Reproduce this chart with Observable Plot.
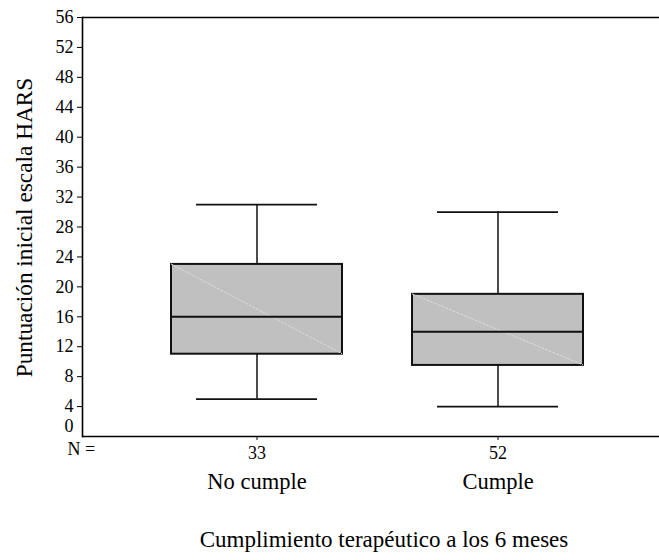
<!DOCTYPE html>
<html><head><meta charset="utf-8">
<script src="https://cdn.jsdelivr.net/npm/d3@7"></script>
<script src="https://cdn.jsdelivr.net/npm/@observablehq/plot@0.6"></script>
<style>body{margin:0;background:#fff} svg, svg text{font-family:'Liberation Serif','Times New Roman',serif !important}</style>
</head><body><div id="chart"></div>
<script>
const groups = ["No cumple", "Cumple"];
const counts = [33, 52];
const lowerWhisker = [5, 4];
const q1 = [11, 9.5];
const median = [16, 14];
const q3 = [23, 19];
const upperWhisker = [31, 30];
const yTicks = [0, 4, 8, 12, 16, 20, 24, 28, 32, 36, 40, 44, 48, 52, 56];
const yLabel = "Puntuación inicial escala HARS";
const xLabel = "Cumplimiento terapéutico a los 6 meses";
const nLabel = "N =";

const boxes = groups.map((g, i) => ({
  group: g, n: counts[i], lo: lowerWhisker[i], q1: q1[i], med: median[i], q3: q3[i], hi: upperWhisker[i]
}));

const font = "'Liberation Serif', 'Times New Roman', serif";

function diag(index, scales, values, dimensions, context, next) {
  const g = next(index, scales, values, dimensions, context);
  for (const rect of Array.from(g.querySelectorAll("rect"))) {
    const x = +rect.getAttribute("x"), y = +rect.getAttribute("y");
    const w = +rect.getAttribute("width"), h = +rect.getAttribute("height");
    const line = document.createElementNS("http://www.w3.org/2000/svg", "line");
    line.setAttribute("x1", x); line.setAttribute("y1", y);
    line.setAttribute("x2", x + w); line.setAttribute("y2", y + h);
    line.setAttribute("stroke", "#dcdcdc");
    line.setAttribute("stroke-width", "1");
    line.setAttribute("stroke-dasharray", "3,1");
    line.setAttribute("fill", "none");
    rect.after(line);
  }
  return g;
}

const chart = Plot.plot({
  width: 659,
  height: 560,
  marginLeft: 82,
  marginRight: 0,
  marginTop: 17,
  marginBottom: 124,
  style: {fontFamily: font, background: "#fff", color: "#000"},
  x: {domain: groups, range: [135.5, 617.5], padding: 0, axis: null},
  y: {domain: [0, 56], axis: null},
  marks: [
    Plot.ruleX(boxes, {x: "group", y1: "lo", y2: "q1", stroke: "#111", strokeWidth: 1.5}),
    Plot.ruleX(boxes, {x: "group", y1: "q3", y2: "hi", stroke: "#111", strokeWidth: 1.5}),
    Plot.tickY(boxes, {x: "group", y: "lo", insetLeft: 60, insetRight: 60, stroke: "#111", strokeWidth: 1.8}),
    Plot.tickY(boxes, {x: "group", y: "hi", insetLeft: 60, insetRight: 60, stroke: "#111", strokeWidth: 1.8}),
    Plot.barY(boxes, {x: "group", y1: "q1", y2: "q3", fill: "#c0c0c0", stroke: "#111", strokeWidth: 2, insetLeft: 35, insetRight: 35, render: diag}),
    Plot.tickY(boxes, {x: "group", y: "med", insetLeft: 35, insetRight: 35, stroke: "#111", strokeWidth: 2}),
    Plot.ruleY([yTicks[0], yTicks[yTicks.length - 1]], {stroke: "#000", strokeWidth: 1.6}),
    Plot.frame({anchor: "left", stroke: "#000", strokeWidth: 1.6}),
    Plot.axisY(yTicks.filter(d => d !== 0), {tickSize: 5, tickPadding: 4, fontSize: 18, fontFamily: font, label: null, stroke: "#000"}),
    Plot.text([yTicks[0]], {y: d => d, frameAnchor: "left", text: d => String(d), dx: -9, dy: -10, textAnchor: "end", fontSize: 18, fontFamily: font}),
    Plot.axisX(groups, {tickSize: 4, tickPadding: 6, fontSize: 18, fontFamily: font, label: null, tickFormat: d => String(counts[groups.indexOf(d)])}),
    Plot.text([nLabel], {frameAnchor: "bottom-left", text: d => d, dx: -15, dy: 18, textAnchor: "start", fontSize: 18, fontFamily: font}),
    Plot.text(boxes, {x: "group", text: "group", frameAnchor: "bottom", dy: 52, fontSize: 22.5, fontFamily: font}),
    Plot.text([xLabel], {frameAnchor: "bottom", text: d => d, dx: 13, dy: 110, fontSize: 23, fontFamily: font}),
    Plot.text([yLabel], {frameAnchor: "left", text: d => d, rotate: -90, dx: -58, dy: 0.5, textAnchor: "middle", fontSize: 23.3, fontFamily: font})
  ]
});
document.getElementById("chart").appendChild(chart);
</script>
</body></html>
